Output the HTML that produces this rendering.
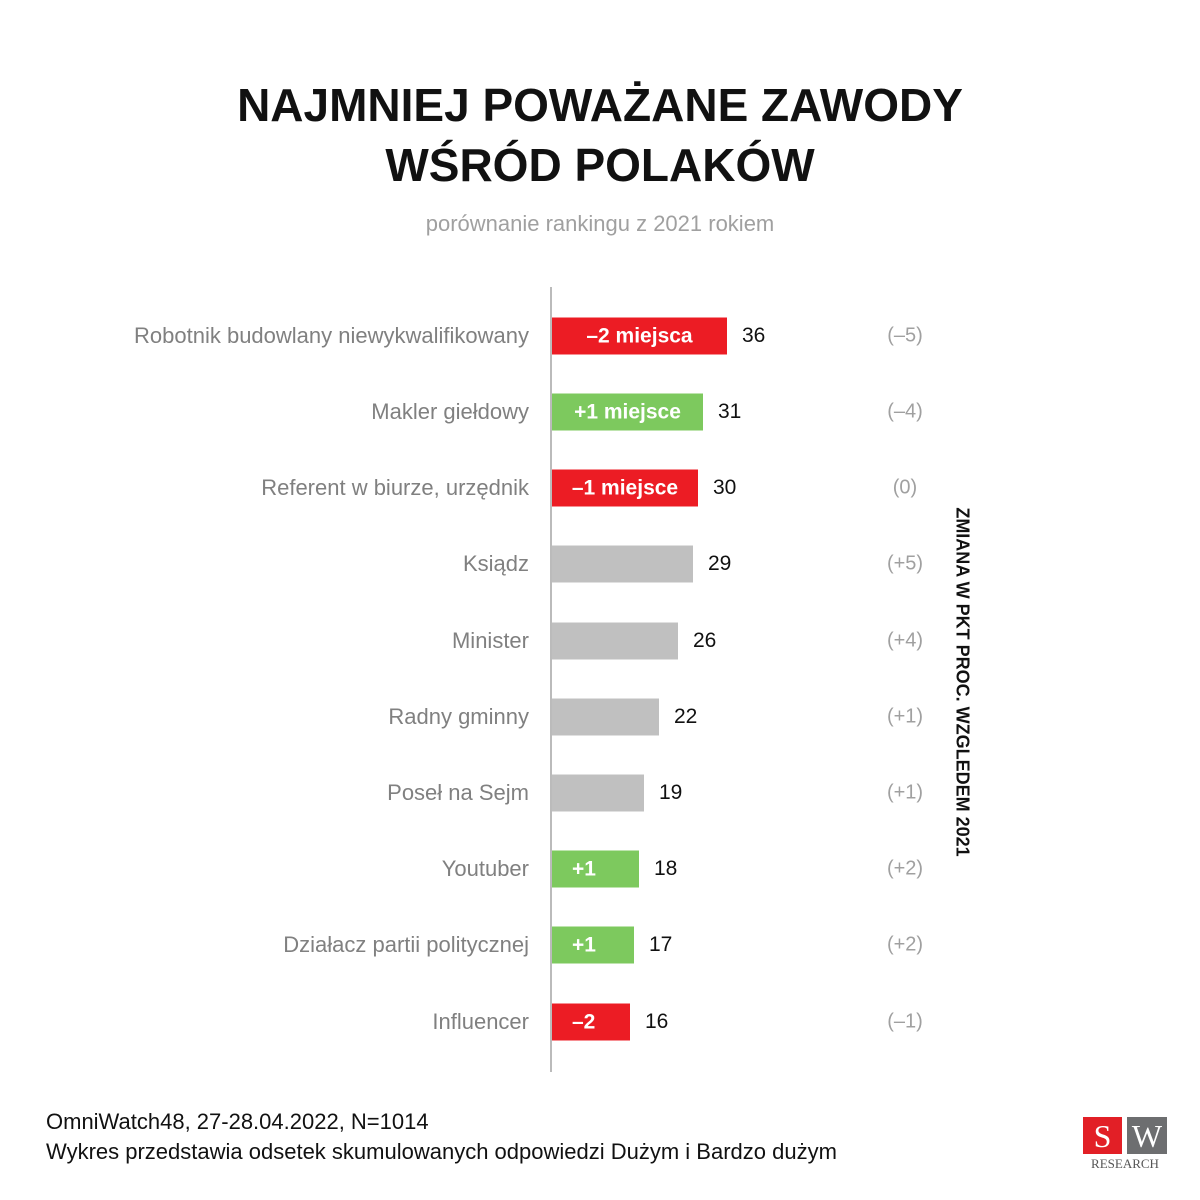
<!DOCTYPE html>
<html><head><meta charset="utf-8"><style>
body{margin:0;width:1200px;height:1200px;background:#fff;position:relative;font-family:"Liberation Sans",sans-serif;overflow:hidden}
.a{position:absolute;white-space:nowrap}
.t{left:0;width:1200px;text-align:center;font-weight:bold;font-size:46px;color:#111;letter-spacing:0px}
.lab{right:671px;font-size:22px;color:#808080;transform:translateY(-50%)}
.bar{left:552px;height:37px;transform:translateY(-50%);color:#fff;font-weight:bold;font-size:21px;line-height:37px;text-align:center}
.v{font-size:21px;color:#111;transform:translateY(-50%)}
.c{left:870px;width:70px;text-align:center;font-size:20px;color:#a0a0a0;transform:translateY(-50%)}
.r{background:#ec1c24}.g{background:#7dc95e}.n{background:#c0c0c0}
</style></head><body>
<div class="a t" style="top:78px">NAJMNIEJ POWAŻANE ZAWODY</div>
<div class="a t" style="top:138px">WŚRÓD POLAKÓW</div>
<div class="a" style="left:0;width:1200px;text-align:center;top:211px;font-size:22px;color:#a0a0a0">porównanie rankingu z 2021 rokiem</div>
<div class="a" style="left:550px;top:287px;width:2px;height:785px;background:#bbb"></div>

<div class="a lab" style="top:336px">Robotnik budowlany niewykwalifikowany</div>
<div class="a bar r" style="top:336px;width:175px">–2 miejsca</div>
<div class="a v" style="top:336px;left:742px">36</div>
<div class="a c" style="top:336px">(–5)</div>

<div class="a lab" style="top:412px">Makler giełdowy</div>
<div class="a bar g" style="top:412px;width:151px">+1 miejsce</div>
<div class="a v" style="top:412px;left:718px">31</div>
<div class="a c" style="top:412px">(–4)</div>

<div class="a lab" style="top:488px">Referent w biurze, urzędnik</div>
<div class="a bar r" style="top:488px;width:146px">–1 miejsce</div>
<div class="a v" style="top:488px;left:713px">30</div>
<div class="a c" style="top:488px">(0)</div>

<div class="a lab" style="top:564px">Ksiądz</div>
<div class="a bar n" style="top:564px;width:141px"></div>
<div class="a v" style="top:564px;left:708px">29</div>
<div class="a c" style="top:564px">(+5)</div>

<div class="a lab" style="top:641px">Minister</div>
<div class="a bar n" style="top:641px;width:126px"></div>
<div class="a v" style="top:641px;left:693px">26</div>
<div class="a c" style="top:641px">(+4)</div>

<div class="a lab" style="top:717px">Radny gminny</div>
<div class="a bar n" style="top:717px;width:107px"></div>
<div class="a v" style="top:717px;left:674px">22</div>
<div class="a c" style="top:717px">(+1)</div>

<div class="a lab" style="top:793px">Poseł na Sejm</div>
<div class="a bar n" style="top:793px;width:92px"></div>
<div class="a v" style="top:793px;left:659px">19</div>
<div class="a c" style="top:793px">(+1)</div>

<div class="a lab" style="top:869px">Youtuber</div>
<div class="a bar g" style="top:869px;width:87px;text-align:left;padding-left:20px;box-sizing:border-box">+1</div>
<div class="a v" style="top:869px;left:654px">18</div>
<div class="a c" style="top:869px">(+2)</div>

<div class="a lab" style="top:945px">Działacz partii politycznej</div>
<div class="a bar g" style="top:945px;width:82px;text-align:left;padding-left:20px;box-sizing:border-box">+1</div>
<div class="a v" style="top:945px;left:649px">17</div>
<div class="a c" style="top:945px">(+2)</div>

<div class="a lab" style="top:1022px">Influencer</div>
<div class="a bar r" style="top:1022px;width:78px;text-align:left;padding-left:20px;box-sizing:border-box">–2</div>
<div class="a v" style="top:1022px;left:645px">16</div>
<div class="a c" style="top:1022px">(–1)</div>

<div class="a" style="left:962px;top:682px;transform:translate(-50%,-50%) rotate(90deg);font-size:18px;font-weight:bold;color:#111">ZMIANA W PKT PROC. WZGLEDEM 2021</div>

<div class="a" style="left:46px;top:1109px;font-size:22px;color:#111">OmniWatch48, 27-28.04.2022, N=1014</div>
<div class="a" style="left:46px;top:1139px;font-size:22px;color:#111">Wykres przedstawia odsetek skumulowanych odpowiedzi Dużym i Bardzo dużym</div>

<div class="a" style="left:1083px;top:1117px;width:39px;height:37px;background:#e21f26;color:#fff;font-family:'Liberation Serif',serif;font-size:32px;text-align:center;line-height:38px">S</div>
<div class="a" style="left:1127px;top:1117px;width:40px;height:37px;background:#6d6e70;color:#fff;font-family:'Liberation Serif',serif;font-size:32px;text-align:center;line-height:38px">W</div>
<div class="a" style="left:1082px;top:1156px;width:86px;text-align:center;font-family:'Liberation Serif',serif;font-size:13px;color:#555">RESEARCH</div>
</body></html>
